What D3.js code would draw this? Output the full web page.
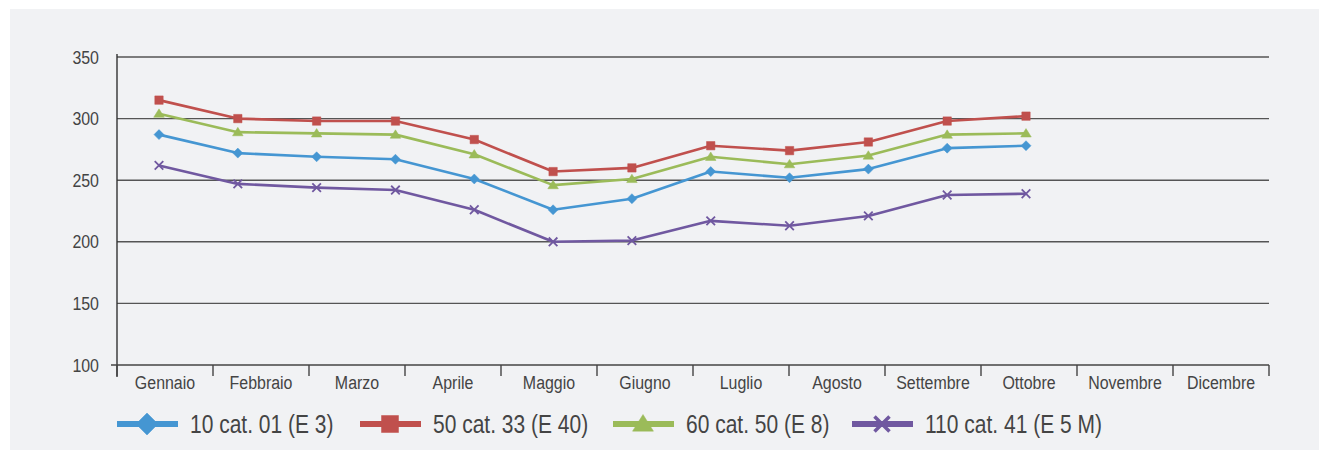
<!DOCTYPE html>
<html>
<head>
<meta charset="utf-8">
<script src="https://cdn.jsdelivr.net/npm/d3@7"></script>
<style>
  html, body { margin: 0; padding: 0; background: #ffffff; }
  svg { display: block; }
  text { font-family: "Liberation Sans", Arial, Helvetica, sans-serif; }
</style>
</head>
<body>
<svg id="chart" width="1321" height="450"></svg>
<script>
const months = ["Gennaio","Febbraio","Marzo","Aprile","Maggio","Giugno","Luglio","Agosto","Settembre","Ottobre","Novembre","Dicembre"];
const yTicks = [100, 150, 200, 250, 300, 350];
const seriesNames = ["10 cat. 01 (E 3)", "50 cat. 33 (E 40)", "60 cat. 50 (E 8)", "110 cat. 41 (E 5 M)"];
const s10 = [287, 272, 269, 267, 251, 226, 235, 257, 252, 259, 276, 278];
const s50 = [315, 300, 298, 298, 283, 257, 260, 278, 274, 281, 298, 302];
const s60 = [304, 289, 288, 287, 271, 246, 251, 269, 263, 270, 287, 288];
const s110 = [262, 247, 244, 242, 226, 200, 201, 217, 213, 221, 238, 239];

const colors = ["#4596d2", "#c0504d", "#9bbb59", "#7058a0"];
const markers = ["diamond", "square", "triangle", "cross"];
const series = [s10, s50, s60, s110].map((v, i) => ({ name: seriesNames[i], values: v, color: colors[i], marker: markers[i] }));

const NARROW = 0.84;
const svg = d3.select("#chart");
svg.append("rect").attr("x", 10).attr("y", 9).attr("width", 1309).attr("height", 441).attr("fill", "#f1f2f4");

const margin = { left: 117, top: 57 };
const W = 1152, H = 308;
const g = svg.append("g").attr("transform", `translate(${margin.left},${margin.top})`);

const x = d3.scaleBand().domain(months).range([0, W]).padding(0);
const xPts = d3.scalePoint().domain(months).range([42, 909]);
const y = d3.scaleLinear().domain([100, 350]).range([H, 0]);

// gridlines
g.append("g").selectAll("line").data(yTicks.filter(t => t !== 100)).join("line")
  .attr("x1", 0).attr("x2", W)
  .attr("y1", d => y(d)).attr("y2", d => y(d))
  .attr("stroke", "#555").attr("stroke-width", 1.4);

// y axis
const yAxis = g.append("g").call(d3.axisLeft(y).tickValues(yTicks).tickSize(0).tickPadding(18));
yAxis.select(".domain").remove();
yAxis.selectAll("text")
  .attr("font-size", 19).attr("fill", "#444")
  .attr("x", -18 / NARROW)
  .attr("transform", `scale(${NARROW},1)`);
g.append("line").attr("x1", 0).attr("x2", 0).attr("y1", -3).attr("y2", H + 12).attr("stroke", "#333").attr("stroke-width", 1.4);
g.append("line").attr("x1", -6).attr("x2", W).attr("y1", H).attr("y2", H).attr("stroke", "#444").attr("stroke-width", 1.6);

// x axis
const xAxis = g.append("g").attr("transform", `translate(0,${H})`)
  .call(d3.axisBottom(x).tickSize(0).tickPadding(11));
xAxis.select(".domain").remove();
xAxis.selectAll("text")
  .attr("font-size", 19).attr("fill", "#444")
  .attr("transform", `scale(${NARROW},1)`);
g.append("g").selectAll("line").data(months.concat(["__end"])).join("line")
  .attr("x1", (d, i) => i * x.step()).attr("x2", (d, i) => i * x.step())
  .attr("y1", H).attr("y2", H + 11)
  .attr("stroke", "#444").attr("stroke-width", 1.4);

function markerPath(type, r) {
  const p = d3.path();
  if (type === "diamond") {
    p.moveTo(0, -r); p.lineTo(r, 0); p.lineTo(0, r); p.lineTo(-r, 0); p.closePath();
  } else if (type === "square") {
    p.rect(-r, -r, 2 * r, 2 * r);
  } else if (type === "triangle") {
    p.moveTo(0, -r); p.lineTo(r * 1.1, r * 0.75); p.lineTo(-r * 1.1, r * 0.75); p.closePath();
  } else {
    p.moveTo(-r, -r); p.lineTo(r, r); p.moveTo(r, -r); p.lineTo(-r, r);
  }
  return p.toString();
}

const line = d3.line().x((d, i) => xPts(months[i])).y(d => y(d));
series.forEach(s => {
  g.append("path").datum(s.values).attr("d", line)
    .attr("fill", "none").attr("stroke", s.color).attr("stroke-width", 2.6).attr("stroke-linejoin", "round");
  const r = s.marker === "diamond" ? 5 : s.marker === "square" ? 4.2 : s.marker === "triangle" ? 4.8 : 4.3;
  g.append("g").selectAll("path").data(s.values).join("path")
    .attr("transform", (d, i) => `translate(${xPts(months[i])},${y(d)})`)
    .attr("d", markerPath(s.marker, r))
    .attr("fill", s.marker === "cross" ? "none" : s.color)
    .attr("stroke", s.color)
    .attr("stroke-width", s.marker === "cross" ? 1.8 : 0.5);
});

// legend
const legendX = [117, 360, 613, 852];
const leg = svg.append("g").attr("transform", "translate(0,424)");
series.forEach((s, i) => {
  const gi = leg.append("g").attr("transform", `translate(${legendX[i]},0)`);
  gi.append("line").attr("x1", 0).attr("x2", 61).attr("y1", 0).attr("y2", 0)
    .attr("stroke", s.color).attr("stroke-width", 6);
  const r = s.marker === "diamond" ? 11 : s.marker === "square" ? 8.5 : s.marker === "triangle" ? 9.5 : 7.5;
  gi.append("path").attr("transform", "translate(30,0)").attr("d", markerPath(s.marker, r))
    .attr("fill", s.marker === "cross" ? "none" : s.color)
    .attr("stroke", s.color).attr("stroke-width", s.marker === "cross" ? 3.5 : 0.5);
  gi.append("text").attr("transform", `translate(73,9) scale(${NARROW},1)`)
    .attr("font-size", 25).attr("fill", "#444").text(s.name);
});
</script>
</body>
</html>
